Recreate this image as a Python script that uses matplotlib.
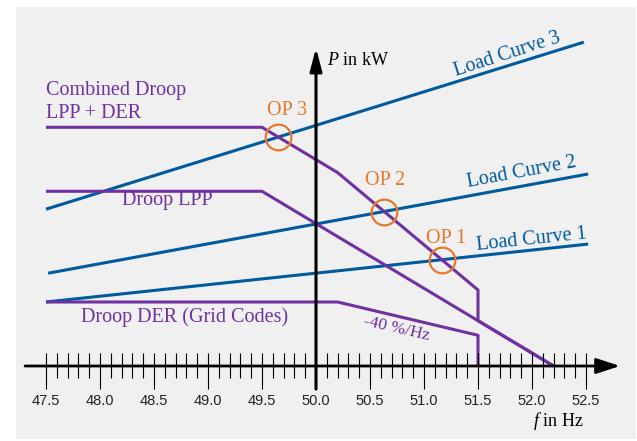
import numpy as np
import matplotlib
matplotlib.use("Agg")
import matplotlib.pyplot as plt
from matplotlib.patches import Rectangle

# droop characteristics (P in kW over f in Hz)
f_lpp = [47.5, 49.5, 52.2]
p_lpp = [27.3, 27.3, 0.0]

f_der = [47.5, 50.2, 51.5, 51.5]
p_der = [10.0, 10.0, 4.8, 0.0]

# load curves
f_load1 = [47.5, 52.52]
p_load1 = [10.0, 19.05]
f_load2 = [47.52, 52.52]
p_load2 = [14.5, 30.0]
f_load3 = [47.5, 52.48]
p_load3 = [24.5, 50.6]

tick_labels = ["47.5", "48.0", "48.5", "49.0", "49.5", "50.0",
               "50.5", "51.0", "51.5", "52.0", "52.5"]

purple = "#7030a0"
blue = "#005a9e"
orange = "#e8772e"
serif = "Liberation Serif"
sans = "Liberation Sans"

plt.rcParams["mathtext.fontset"] = "custom"
plt.rcParams["mathtext.rm"] = "Liberation Serif"
plt.rcParams["mathtext.it"] = "Liberation Serif:italic"

fig = plt.figure(figsize=(6.37, 4.41), dpi=100)
ax = fig.add_axes([0, 0, 1, 1])
ax.set_facecolor("none")
ax.set_xlim(50 - 316 / 108, 50 + 321 / 108)
ax.set_ylim(-75 / 6.4, 366 / 6.4)
ax.axis("off")
ax.add_patch(Rectangle((16 / 637, 2 / 441), 620 / 637, 432 / 441,
                       transform=ax.transAxes, facecolor="#f0f0f0",
                       edgecolor="none", zorder=0))

# combined droop = LPP + DER, step of the DER at 51.5 Hz
f_comb = [47.5, 49.5, 50.2, 51.5, 51.5, 52.2]
lpp_at = np.interp(f_comb, f_lpp, p_lpp)
der_at = [10.0, 10.0, 10.0, 4.8, 0.0, 0.0]
p_comb = lpp_at + np.array(der_at)

lw = 2.2
ax.plot(f_load1, p_load1, color=blue, lw=lw, solid_capstyle="butt", zorder=3)
ax.plot(f_load2, p_load2, color=blue, lw=lw, solid_capstyle="butt", zorder=3)
ax.plot(f_load3, p_load3, color=blue, lw=lw, solid_capstyle="butt", zorder=3)
ax.plot(f_lpp, p_lpp, color=purple, lw=lw, solid_capstyle="butt", zorder=4)
ax.plot(f_der, p_der, color=purple, lw=lw, solid_capstyle="butt", zorder=4)
ax.plot(f_comb, p_comb, color=purple, lw=lw, solid_capstyle="butt", zorder=4)

# operating points: intersection of combined droop and each load curve
fine = np.linspace(47.5, 51.499, 4000)
comb_fine = np.interp(fine, f_lpp, p_lpp) + np.interp(fine, f_der[:3], p_der[:3])
ops = []
for fl, pl in [(f_load1, p_load1), (f_load2, p_load2), (f_load3, p_load3)]:
    diff = comb_fine - np.interp(fine, fl, pl)
    i = np.argmin(np.abs(diff))
    ops.append((fine[i], comb_fine[i]))
for fo, po in ops:
    ax.plot(fo, po, "o", ms=18.5, mfc="none", mec=orange, mew=1.6, zorder=5)

# axes with arrows
ax.annotate("", xy=(52.815, 0), xytext=(47.306, 0),
            arrowprops=dict(arrowstyle="-|>,head_length=1.44,head_width=0.47",
                            mutation_scale=10, lw=2.0, color="black",
                            shrinkA=0, shrinkB=0), zorder=6)
ax.annotate("", xy=(50.0, 49.7), xytext=(50.0, -3.6),
            arrowprops=dict(arrowstyle="-|>,head_length=1.37,head_width=0.36",
                            mutation_scale=10, lw=2.2, color="black",
                            shrinkA=0, shrinkB=0), zorder=6)

ticks = np.round(np.arange(47.5, 52.51, 0.1), 1)
major = np.isclose((ticks * 2) % 1, 0)
ax.vlines(ticks[~major], -1.9, 2.0, color="black", lw=0.8, zorder=6)
ax.vlines(ticks[major], -3.6, 2.0, color="black", lw=0.8, zorder=6)
for t, lab in zip(ticks[major], tick_labels):
    ax.text(t, -5.4, lab, ha="center", va="center", fontsize=10.5,
            family=sans, color="#222222")

ax.text(50.1, 47.7, "$P$ in kW", fontsize=13, family=serif,
        va="center", ha="left")
ax.text(52.24, -8.6, "$f$ in Hz", fontsize=13, family=serif,
        va="center", ha="center")

# curve labels
ax.text(47.5, 43.0, "Combined Droop", color=purple, fontsize=14.5,
        family=serif, va="center", ha="left")
ax.text(47.5, 39.4, "LPP + DER", color=purple, fontsize=14.5,
        family=serif, va="center", ha="left")
ax.text(48.625, 25.8, "Droop LPP", color=purple, fontsize=14.5,
        family=serif, va="center", ha="center")
ax.text(48.787, 7.66, "Droop DER (Grid Codes)", color=purple, fontsize=14.5,
        family=serif, va="center", ha="center")
ax.text(50.75, 5.8, "-40 %/Hz", color=purple, fontsize=12.5, family=serif,
        va="center", ha="center", rotation=-13, rotation_mode="anchor")

for (fo, po), lab, (dx, dy) in zip(ops, ["OP 1", "OP 2", "OP 3"],
                                   [(0.04, 3.3), (0.01, 4.9), (0.08, 4.2)]):
    ax.text(fo + dx, po + dy, lab, color=orange, fontsize=14.5, family=serif,
            va="center", ha="center")

ax.text(51.77, 48.6, "Load Curve 3", color=blue, fontsize=14.5, family=serif,
        va="center", ha="center", rotation=18, rotation_mode="anchor")
ax.text(51.907, 30.2, "Load Curve 2", color=blue, fontsize=14.5, family=serif,
        va="center", ha="center", rotation=10.5, rotation_mode="anchor")
ax.text(52.0, 19.8, "Load Curve 1", color=blue, fontsize=14.5, family=serif,
        va="center", ha="center", rotation=6, rotation_mode="anchor")

fig.savefig("out.png", dpi=100)
